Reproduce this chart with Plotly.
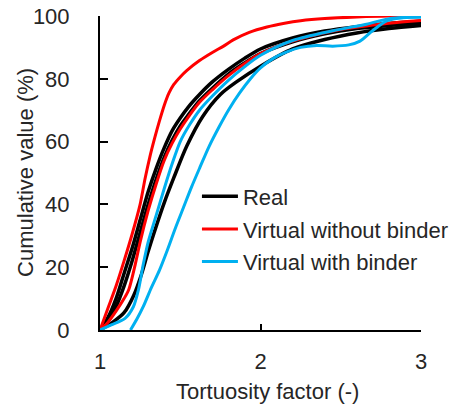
import plotly.graph_objects as go

# ---- data ----
real_a_x = [1.00, 1.05, 1.10, 1.15, 1.20, 1.25, 1.30, 1.35, 1.40, 1.45, 1.50, 1.55, 1.62, 1.70, 1.80, 1.90, 2.00, 2.20, 2.40, 2.60, 2.80, 3.00]
real_a_y = [0, 4, 10, 18, 26, 35, 44, 51.5, 58, 63.5, 67.5, 71, 75, 79, 83, 86.5, 89.5, 93, 95.2, 96.6, 97.6, 98.3]

real_b_x = [1.00, 1.05, 1.10, 1.15, 1.20, 1.25, 1.30, 1.35, 1.40, 1.45, 1.50, 1.55, 1.62, 1.70, 1.80, 1.90, 2.00, 2.20, 2.40, 2.60, 2.80, 3.00]
real_b_y = [0, 3, 7.5, 14, 22, 31, 40, 48, 55, 60.5, 65, 68.5, 73, 77, 81.5, 85, 88, 91.8, 94.3, 96, 97, 97.8]

real_c_x = [1.00, 1.08, 1.15, 1.21, 1.26, 1.30, 1.35, 1.40, 1.46, 1.54, 1.64, 1.75, 1.85, 2.00, 2.20, 2.40, 2.60, 2.80, 3.00]
real_c_y = [0, 2.5, 5.5, 11, 18, 25, 33, 40.5, 48.5, 58.5, 68, 75, 79, 84, 89.5, 92.5, 94.6, 96, 97]

vwo_a_x = [1.00, 1.05, 1.10, 1.15, 1.20, 1.25, 1.28, 1.31, 1.34, 1.37, 1.40, 1.43, 1.46, 1.50, 1.54, 1.62, 1.70, 1.77, 1.83, 1.93, 2.04, 2.15, 2.25, 2.40, 2.60, 2.80, 3.00]
vwo_a_y = [0, 7, 14, 22, 30.5, 40, 48, 55, 61, 66.5, 71.5, 75.5, 78.2, 80.6, 82.6, 85.8, 88.4, 90.4, 92.4, 94.8, 96.5, 97.7, 98.5, 99.2, 99.7, 100, 100]

vwo_b_x = [1.00, 1.05, 1.10, 1.15, 1.18, 1.22, 1.25, 1.30, 1.35, 1.40, 1.45, 1.50, 1.55, 1.62, 1.70, 1.80, 1.90, 2.00, 2.20, 2.50, 2.80, 3.00]
vwo_b_y = [0, 2.5, 6, 10, 13, 21, 28, 38, 46.5, 54, 59.5, 64, 67.8, 72.5, 76.5, 81, 84.8, 88, 92, 95.7, 97.7, 98.6]

vw_a_x = [1.00, 1.07, 1.156, 1.208, 1.239, 1.27, 1.30, 1.35, 1.40, 1.45, 1.50, 1.56, 1.62, 1.70, 1.80, 1.90, 2.00, 2.20, 2.45, 2.66, 2.81, 3.00]
vw_a_y = [0, 1.6, 3.7, 7.4, 12.7, 21, 28, 36.5, 45, 53, 60, 65.5, 70, 74.5, 79.5, 83.8, 87.5, 92.2, 95.3, 97.4, 99.2, 99.7]

vw_b_x = [1.19, 1.23, 1.27, 1.32, 1.37, 1.42, 1.47, 1.52, 1.57, 1.62, 1.68, 1.74, 1.80, 1.87, 1.94, 2.00, 2.08, 2.16, 2.25, 2.35, 2.45, 2.55, 2.62, 2.70, 2.79, 2.89, 3.00]
vw_b_y = [0, 3.5, 7.5, 13.5, 19, 25.5, 32.5, 39, 45.5, 51.5, 58.5, 64.5, 70, 75.5, 80.2, 83.5, 86.5, 88.5, 90, 90.6, 90.4, 90.8, 92, 95.4, 98.5, 99.5, 99.7]

series_names = ["Real", "Virtual without binder", "Virtual with binder"]
x_ticks = [1, 2, 3]
y_ticks = [0, 20, 40, 60, 80, 100]

BLACK = "#000000"
RED = "#FF0000"
BLUE = "#00B0F0"
FONT = "Liberation Sans, Arial, sans-serif"
TXT = "#262626"

fig = go.Figure()

curves = [
    (real_a_x, real_a_y, BLACK, 0, True, 3.5),
    (real_b_x, real_b_y, BLACK, 0, False, 3.5),
    (real_c_x, real_c_y, BLACK, 0, False, 3.5),
    (vwo_a_x, vwo_a_y, RED, 1, True, 3),
    (vwo_b_x, vwo_b_y, RED, 1, False, 3),
    (vw_a_x, vw_a_y, BLUE, 2, True, 3),
    (vw_b_x, vw_b_y, BLUE, 2, False, 3),
]
for xs, ys, col, gi, show, w in curves:
    fig.add_trace(go.Scatter(
        x=xs, y=ys, mode="lines",
        line=dict(color=col, width=w, shape="spline", smoothing=0.8),
        name=series_names[gi], legendgroup=series_names[gi], showlegend=show,
        cliponaxis=False, hoverinfo="skip",
    ))

fig.update_layout(
    width=463, height=407,
    margin=dict(l=100, r=42, t=16, b=77, autoexpand=False),
    paper_bgcolor="white", plot_bgcolor="white",
    font=dict(family=FONT, size=22, color=TXT),
    showlegend=True,
    legend=dict(
        x=0.302, y=0.492, xanchor="left", yanchor="top",
        bgcolor="rgba(0,0,0,0)", borderwidth=0,
        font=dict(family=FONT, size=22, color=TXT),
        itemwidth=36, tracegroupgap=1,
    ),
    xaxis=dict(
        range=[1, 3], tickvals=x_ticks, ticktext=[str(v) for v in x_ticks],
        showline=True, linecolor="black", linewidth=2,
        ticks="inside", ticklen=6, tickwidth=2, tickcolor="black",
        showgrid=False, zeroline=False, ticklabelstandoff=11, automargin=False,
        tickfont=dict(family=FONT, size=22, color=TXT),
    ),
    yaxis=dict(
        range=[0, 100], tickvals=y_ticks, ticktext=[str(v) for v in y_ticks],
        showline=True, linecolor="black", linewidth=2,
        ticks="inside", ticklen=8, tickwidth=2, tickcolor="black",
        showgrid=False, zeroline=False, ticklabelstandoff=24, automargin=False,
        tickfont=dict(family=FONT, size=22, color=TXT),
    ),
    annotations=[
        dict(text="Tortuosity factor (-)", xref="paper", yref="paper",
             x=0.523, y=-0.197, xanchor="center", yanchor="middle",
             showarrow=False, font=dict(family=FONT, size=22, color=TXT)),
        dict(text="Cumulative value (%)", xref="paper", yref="paper",
             x=-0.234, y=0.503, xanchor="center", yanchor="middle", textangle=-90,
             showarrow=False, font=dict(family=FONT, size=22, color=TXT)),
    ],
)

fig.write_html("out.html")
